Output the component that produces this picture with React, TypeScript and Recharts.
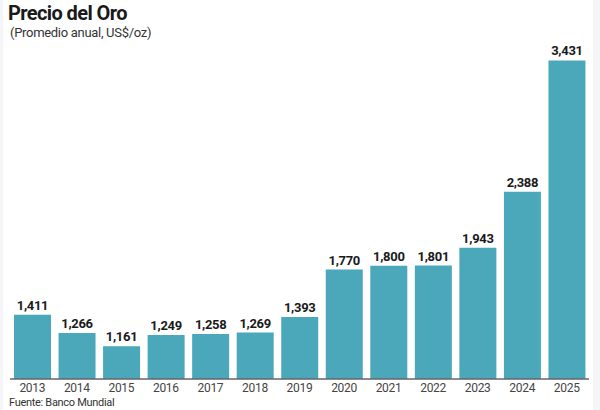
import { Bar, BarChart, LabelList, XAxis, YAxis } from "recharts"

const years = ["2013", "2014", "2015", "2016", "2017", "2018", "2019", "2020", "2021", "2022", "2023", "2024", "2025"]
const prices = [1411, 1266, 1161, 1249, 1258, 1269, 1393, 1770, 1800, 1801, 1943, 2388, 3431]

const data = years.map((year, i) => ({ year, price: prices[i] }))

const FONT = "Roboto, 'Noto Sans', sans-serif"

export default function App() {
  return (
    <div
      style={{
        position: "absolute",
        left: 0,
        top: 0,
        width: 600,
        height: 410,
        background: "#fff",
        fontFamily: FONT,
        overflow: "hidden",
      }}
    >
      <div style={{ position: "absolute", left: 593, top: 0, width: 7, height: 410, background: "#f4f5f7" }} />
      <div style={{ position: "absolute", left: 0, top: 0, width: 3, height: 410, background: "#f4f5f7" }} />
      <div
        style={{
          position: "absolute",
          left: 8,
          top: 1,
          fontSize: 20,
          fontWeight: 700,
          color: "#1a1a1a",
          letterSpacing: -0.6,
        }}
      >
        Precio del Oro
      </div>
      <div style={{ position: "absolute", left: 10, top: 25, fontSize: 13, color: "#333", letterSpacing: -0.3 }}>
        (Promedio anual, US$/oz)
      </div>
      <div style={{ position: "absolute", left: 9, top: 396, fontSize: 11, color: "#333", letterSpacing: -0.3 }}>
        Fuente: Banco Mundial
      </div>
      <BarChart
        width={600}
        height={410}
        data={data}
        margin={{ top: 14, right: 11, left: 10, bottom: 0 }}
        style={{ position: "absolute", left: 0, top: 0 }}
      >
        <XAxis
          dataKey="year"
          height={31}
          tickLine={false}
          tickSize={2}
          tickMargin={2}
          axisLine={{ stroke: "#666", strokeWidth: 1.5 }}
          tick={{ fill: "#444", fontSize: 12, fontFamily: FONT, letterSpacing: -0.3 }}
          interval={0}
        />
        <YAxis hide domain={[900, 3800]} />
        <Bar dataKey="price" fill="#4aa8ba" barSize={37} isAnimationActive={false}>
          <LabelList
            dataKey="price"
            position="top"
            offset={5}
            formatter={(v: number) => v.toLocaleString("en-US")}
            style={{ fill: "#1a1a1a", fontSize: 13, fontWeight: 700, fontFamily: FONT, letterSpacing: -0.3 }}
          />
        </Bar>
      </BarChart>
    </div>
  )
}
